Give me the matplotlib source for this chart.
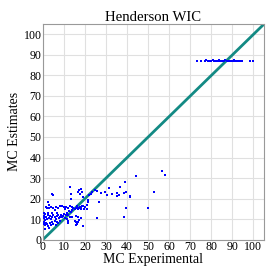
import matplotlib
matplotlib.use("Agg")
import matplotlib.pyplot as plt

# --- data ---
low_x = [2.0, 3.0, 4.0, 5.0, 6.0, 7.0, 8.0, 9.0, 10.0, 11.0, 12.0, 13.0, 14.0, 14.5,
         15.0, 15.5, 16.0, 16.5, 17.0, 17.5, 18.0, 19.0, 20.0, 1.5, 5.5, 10.5, 12.5,
         13.5, 11.5, 14.0, 16.0, 18.5,
         0.3, 0.5, 0.8, 1.0, 1.2, 1.5, 2.0, 2.5, 3.0, 3.5, 4.0, 4.5, 5.0, 5.5, 6.0,
         6.5, 7.0, 7.5, 8.0, 8.5, 9.0, 9.5, 10.0, 10.5, 11.0, 11.5, 12.0, 13.0, 2.2,
         4.2, 0.5, 6.8, 14.0, 15.5, 16.5, 17.0, 15.0,
         0.3, 0.5, 0.8, 1.0, 1.5, 2.0, 2.5, 3.0, 3.5, 4.0, 4.5, 5.0, 5.5, 6.0, 6.5,
         7.0, 8.0, 12.0, 16.0, 15.5, 19.0, 18.3,
         4.3, 4.7, 2.4, 2.8, 13.0, 13.3, 13.4, 16.7, 17.4, 18.2, 18.6, 19.0, 20.2,
         20.9, 20.9, 21.5, 21.3, 22.1, 22.9, 23.4, 24.5, 25.6, 25.6, 26.4, 27.6, 29.4,
         30.2, 31.6, 32.7, 35.1, 35.9, 35.4, 36.6, 38.5, 39.5, 39.2, 41.4, 41.5, 39.5,
         38.7, 44.2, 50.1, 52.6, 56.4, 58.0, 15.8, 16.7, 11.7, 18.3, 19.5, 17.0]
low_y = [15.5, 15.2, 15.8, 15.3, 16.0, 15.6, 16.2, 16.5, 15.8, 16.0, 15.5, 16.2, 15.8, 15.2,
         15.0, 15.6, 15.2, 14.8, 15.4, 15.8, 15.0, 16.2, 15.9, 16.0, 14.6, 14.8, 14.0,
         13.5, 13.0, 14.5, 16.3, 16.5,
         10.5, 11.5, 12.5, 9.5, 10.8, 11.2, 10.0, 12.0, 10.5, 11.5, 9.8, 10.8, 12.0,
         11.0, 10.2, 11.5, 12.2, 10.5, 11.0, 12.0, 10.8, 11.5, 12.5, 10.5, 11.8, 10.0,
         12.0, 11.0, 13.0, 13.2, 13.0, 13.0, 11.0, 11.5, 10.8, 9.5, 9.0,
         7.5, 8.5, 5.0, 7.0, 8.2, 7.5, 6.5, 5.5, 8.0, 7.2, 8.8, 7.8, 9.0, 7.2, 8.5,
         8.0, 9.2, 8.0, 7.5, 8.8, 6.6, 10.5,
         22.0, 21.6, 18.1, 16.9, 25.8, 22.2, 19.6, 23.0, 22.2, 24.7, 23.4, 20.7, 15.9,
         15.1, 17.1, 18.3, 19.2, 21.5, 22.2, 23.0, 24.2, 23.8, 10.7, 18.1, 22.9, 23.0,
         21.5, 25.0, 22.0, 21.2, 21.7, 22.5, 25.7, 22.5, 23.0, 28.1, 21.2, 20.7, 15.6,
         10.9, 31.2, 15.3, 23.2, 33.5, 31.7, 7.2, 8.6, 8.9, 16.0, 15.0, 24.0]

high_x = [73.3, 75.2, 77.0, 77.6, 78.2, 78.8, 79.4, 80.0, 80.6, 81.2, 81.8, 82.4, 83.0,
          83.6, 84.2, 84.8, 85.4, 86.0, 86.6, 87.2, 87.8, 88.4, 89.0, 89.6, 90.2, 90.8,
          91.4, 92.0, 92.6, 93.2, 93.8, 94.5, 98.4, 99.8]
high_y = [87.2, 87.2, 87.0, 87.3, 87.1, 86.9, 87.2, 87.0, 87.3, 87.1, 86.9, 87.2, 87.0,
          87.3, 87.1, 87.2, 86.9, 87.0, 87.3, 87.1, 87.2, 86.9, 87.0, 87.2, 87.1, 87.3,
          87.0, 87.2, 86.9, 87.1, 87.0, 87.2, 87.2, 87.2]

ticks = [0, 10, 20, 30, 40, 50, 60, 70, 80, 90, 100]
lim = 105

plt.rcParams['font.family'] = ['Liberation Serif', 'DejaVu Serif']

fig = plt.figure(figsize=(2.77, 2.77), dpi=100)
ax = fig.add_axes([0.155, 0.135, 0.798, 0.778])

ax.plot([0, lim], [0, lim], color='#138a84', lw=2, zorder=2)
ax.scatter(low_x + high_x, low_y + high_y, s=3.5, marker='s', color='blue',
           linewidths=0, zorder=3)

ax.set_xlim(0, lim)
ax.set_ylim(0, lim)
ax.set_xticks(ticks)
ax.set_yticks(ticks)
ax.tick_params(labelsize=8.6, length=0, pad=1)
ax.grid(True, color='#e0e0e0', lw=0.8)
ax.set_axisbelow(True)
for s in ax.spines.values():
    s.set_color('#999999')
    s.set_linewidth(0.8)

ax.set_title('Henderson WIC', fontsize=10.6, pad=2)
ax.set_xlabel('MC Experimental', fontsize=10, labelpad=0)
ax.set_ylabel('MC Estimates', fontsize=10, labelpad=2)

fig.savefig('out.png', dpi=100)
